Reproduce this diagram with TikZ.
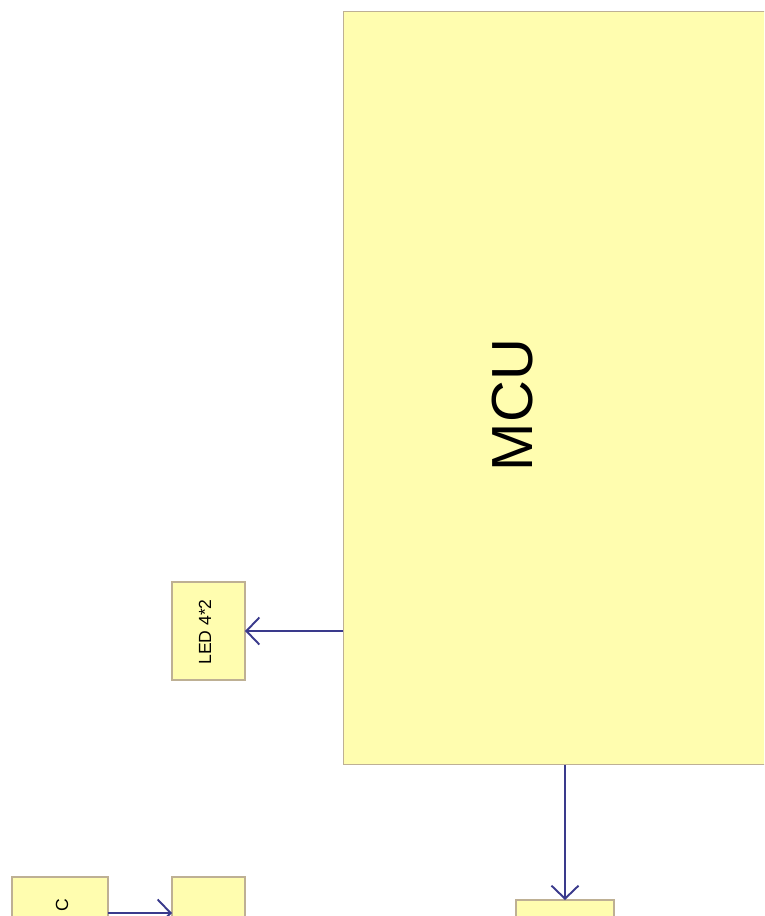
\documentclass[tikz,border=0pt]{standalone}
\usepackage{fontspec}
\setmainfont{Liberation Sans}
\usetikzlibrary{arrows.meta, positioning, calc}
\definecolor{boxfill}{RGB}{255,253,175}
\definecolor{boxline}{RGB}{190,176,148}
\definecolor{wirecol}{RGB}{58,58,140}

\begin{document}
\begin{tikzpicture}[
  x=0.02cm, y=-0.02cm,
  blockbox/.style={rectangle, draw=boxline, fill=boxfill, line width=0.6pt, inner sep=0pt, outer sep=0pt},
  blocklabel/.style={rotate=90, inner sep=0pt},
  flowarrow/.style={-{Straight Barb[length=2.6mm, width=5.4mm]}, line width=1.1pt, wirecol}
]
\clip (0,0) rectangle (764,916);

% Main controller
\node[blockbox, minimum width=9.14cm, minimum height=15.08cm] (mcu) at (571.5,388) {};
\node[blocklabel, font=\fontsize{33}{36}\selectfont] (mcu_text) at (513,405) {MCU};

% Left side
\node[blockbox, minimum width=1.46cm, minimum height=1.96cm] (led) at (208.5,631) {};
\node[blocklabel, font=\fontsize{10}{12}\selectfont] (led_text) at (205,632) {LED 4*2};

% Bottom row
\node[blockbox, minimum width=1.92cm, minimum height=1.44cm] (src) at (60,913) {};
\node[blocklabel, font=\fontsize{10}{12}\selectfont] (src_text) at (62,905) {C};
\node[blockbox, minimum width=1.46cm, minimum height=1.44cm] (mid) at (208.5,913) {};
\node[blockbox, minimum width=1.96cm, minimum height=2cm] (out) at (565,950) {};

\draw[flowarrow] (mcu.west |- led.east) -- (led.east);
\draw[flowarrow] (out.north |- mcu.south) -- (out.north);
\draw[flowarrow] (src.east) -- (mid.west);

\end{tikzpicture}
\end{document}
